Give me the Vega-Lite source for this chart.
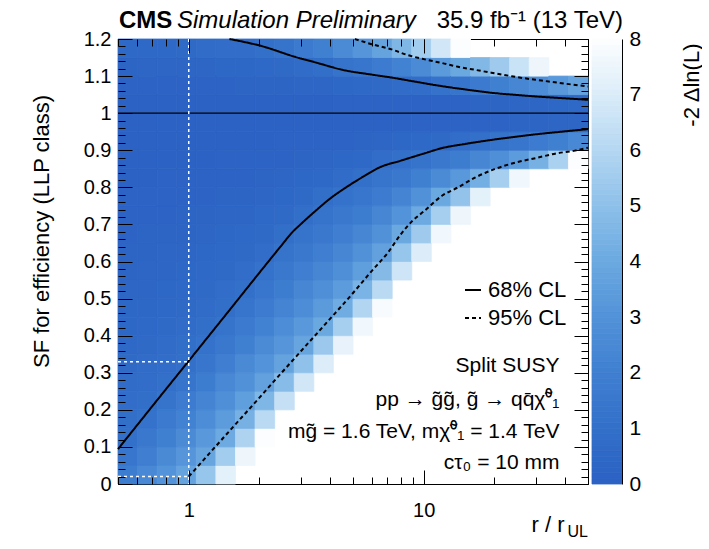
{
"$schema": "https://vega.github.io/schema/vega-lite/v6.json",
"padding": {"left": 29, "top": 8, "right": 0, "bottom": 0},
"background": "white",
"bounds": "flush",
"spacing": 4,
"config": {
  "font": "Liberation Sans",
  "view": {"stroke": "black", "strokeWidth": 1},
  "axis": {"labelFont": "Liberation Sans", "titleFont": "Liberation Sans", "labelColor": "black", "titleColor": "black", "tickColor": "black", "domainColor": "black", "titleFontWeight": "normal", "grid": false, "tickWidth": 1, "labelFontSize": 20, "titleFontSize": 22},
  "legend": {"labelFont": "Liberation Sans"},
  "text": {"font": "Liberation Sans"}
},
"hconcat": [
{
  "width": 470, "height": 445,
  "layer": [
    {
      "data": {"values": [
{"r":0.55,"s":0.025,"v":1.8},{"r":0.55,"s":0.075,"v":1.4},{"r":0.55,"s":0.125,"v":1},{"r":0.55,"s":0.175,"v":0.9},{"r":0.55,"s":0.225,"v":0.8},{"r":0.55,"s":0.275,"v":0.7},{"r":0.55,"s":0.325,"v":0.6},{"r":0.55,"s":0.375,"v":0.5},{"r":0.55,"s":0.425,"v":0.4},{"r":0.55,"s":0.475,"v":0.4},{"r":0.55,"s":0.525,"v":0.3},{"r":0.55,"s":0.575,"v":0.2},{"r":0.55,"s":0.625,"v":0.2},{"r":0.55,"s":0.675,"v":0.1},{"r":0.55,"s":0.725,"v":0.1},{"r":0.55,"s":0.775,"v":0.1},{"r":0.55,"s":0.825,"v":0},{"r":0.55,"s":0.875,"v":0},{"r":0.55,"s":0.925,"v":0},{"r":0.55,"s":0.975,"v":0},{"r":0.55,"s":1.025,"v":0},{"r":0.55,"s":1.075,"v":0.1},{"r":0.55,"s":1.125,"v":0.2},{"r":0.55,"s":1.175,"v":0.5},
{"r":0.667,"s":0.025,"v":2.4},{"r":0.667,"s":0.075,"v":1.9},{"r":0.667,"s":0.125,"v":1.5},{"r":0.667,"s":0.175,"v":1.1},{"r":0.667,"s":0.225,"v":0.9},{"r":0.667,"s":0.275,"v":0.8},{"r":0.667,"s":0.325,"v":0.7},{"r":0.667,"s":0.375,"v":0.6},{"r":0.667,"s":0.425,"v":0.5},{"r":0.667,"s":0.475,"v":0.4},{"r":0.667,"s":0.525,"v":0.3},{"r":0.667,"s":0.575,"v":0.3},{"r":0.667,"s":0.625,"v":0.2},{"r":0.667,"s":0.675,"v":0.2},{"r":0.667,"s":0.725,"v":0.1},{"r":0.667,"s":0.775,"v":0.1},{"r":0.667,"s":0.825,"v":0},{"r":0.667,"s":0.875,"v":0},{"r":0.667,"s":0.925,"v":0},{"r":0.667,"s":0.975,"v":0},{"r":0.667,"s":1.025,"v":0},{"r":0.667,"s":1.075,"v":0.1},{"r":0.667,"s":1.125,"v":0.3},{"r":0.667,"s":1.175,"v":0.5},
{"r":0.808,"s":0.025,"v":3},{"r":0.808,"s":0.075,"v":2.5},{"r":0.808,"s":0.125,"v":2},{"r":0.808,"s":0.175,"v":1.6},{"r":0.808,"s":0.225,"v":1.2},{"r":0.808,"s":0.275,"v":1},{"r":0.808,"s":0.325,"v":0.8},{"r":0.808,"s":0.375,"v":0.7},{"r":0.808,"s":0.425,"v":0.6},{"r":0.808,"s":0.475,"v":0.5},{"r":0.808,"s":0.525,"v":0.4},{"r":0.808,"s":0.575,"v":0.3},{"r":0.808,"s":0.625,"v":0.3},{"r":0.808,"s":0.675,"v":0.2},{"r":0.808,"s":0.725,"v":0.1},{"r":0.808,"s":0.775,"v":0.1},{"r":0.808,"s":0.825,"v":0.1},{"r":0.808,"s":0.875,"v":0},{"r":0.808,"s":0.925,"v":0},{"r":0.808,"s":0.975,"v":0},{"r":0.808,"s":1.025,"v":0},{"r":0.808,"s":1.075,"v":0.1},{"r":0.808,"s":1.125,"v":0.3},{"r":0.808,"s":1.175,"v":0.5},
{"r":0.979,"s":0.025,"v":3.7},{"r":0.979,"s":0.075,"v":3.1},{"r":0.979,"s":0.125,"v":2.6},{"r":0.979,"s":0.175,"v":2.1},{"r":0.979,"s":0.225,"v":1.7},{"r":0.979,"s":0.275,"v":1.3},{"r":0.979,"s":0.325,"v":1},{"r":0.979,"s":0.375,"v":0.9},{"r":0.979,"s":0.425,"v":0.7},{"r":0.979,"s":0.475,"v":0.6},{"r":0.979,"s":0.525,"v":0.5},{"r":0.979,"s":0.575,"v":0.4},{"r":0.979,"s":0.625,"v":0.3},{"r":0.979,"s":0.675,"v":0.2},{"r":0.979,"s":0.725,"v":0.2},{"r":0.979,"s":0.775,"v":0.1},{"r":0.979,"s":0.825,"v":0.1},{"r":0.979,"s":0.875,"v":0},{"r":0.979,"s":0.925,"v":0},{"r":0.979,"s":0.975,"v":0},{"r":0.979,"s":1.025,"v":0},{"r":0.979,"s":1.075,"v":0.1},{"r":0.979,"s":1.125,"v":0.3},{"r":0.979,"s":1.175,"v":0.6},
{"r":1.186,"s":0.025,"v":5.2},{"r":1.186,"s":0.075,"v":3.8},{"r":1.186,"s":0.125,"v":3.2},{"r":1.186,"s":0.175,"v":2.7},{"r":1.186,"s":0.225,"v":2.2},{"r":1.186,"s":0.275,"v":1.8},{"r":1.186,"s":0.325,"v":1.4},{"r":1.186,"s":0.375,"v":1.1},{"r":1.186,"s":0.425,"v":0.9},{"r":1.186,"s":0.475,"v":0.7},{"r":1.186,"s":0.525,"v":0.6},{"r":1.186,"s":0.575,"v":0.5},{"r":1.186,"s":0.625,"v":0.4},{"r":1.186,"s":0.675,"v":0.3},{"r":1.186,"s":0.725,"v":0.2},{"r":1.186,"s":0.775,"v":0.1},{"r":1.186,"s":0.825,"v":0.1},{"r":1.186,"s":0.875,"v":0},{"r":1.186,"s":0.925,"v":0},{"r":1.186,"s":0.975,"v":0},{"r":1.186,"s":1.025,"v":0},{"r":1.186,"s":1.075,"v":0.1},{"r":1.186,"s":1.125,"v":0.3},{"r":1.186,"s":1.175,"v":0.7},
{"r":1.437,"s":0.025,"v":7.2},{"r":1.437,"s":0.075,"v":5.5},{"r":1.437,"s":0.125,"v":4},{"r":1.437,"s":0.175,"v":3.4},{"r":1.437,"s":0.225,"v":2.8},{"r":1.437,"s":0.275,"v":2.4},{"r":1.437,"s":0.325,"v":1.9},{"r":1.437,"s":0.375,"v":1.5},{"r":1.437,"s":0.425,"v":1.2},{"r":1.437,"s":0.475,"v":0.9},{"r":1.437,"s":0.525,"v":0.8},{"r":1.437,"s":0.575,"v":0.6},{"r":1.437,"s":0.625,"v":0.5},{"r":1.437,"s":0.675,"v":0.4},{"r":1.437,"s":0.725,"v":0.3},{"r":1.437,"s":0.775,"v":0.2},{"r":1.437,"s":0.825,"v":0.1},{"r":1.437,"s":0.875,"v":0.1},{"r":1.437,"s":0.925,"v":0},{"r":1.437,"s":0.975,"v":0},{"r":1.437,"s":1.025,"v":0},{"r":1.437,"s":1.075,"v":0.1},{"r":1.437,"s":1.125,"v":0.4},{"r":1.437,"s":1.175,"v":0.8},
{"r":1.741,"s":0.075,"v":7.5},{"r":1.741,"s":0.125,"v":5.8},{"r":1.741,"s":0.175,"v":4.3},{"r":1.741,"s":0.225,"v":3.5},{"r":1.741,"s":0.275,"v":2.9},{"r":1.741,"s":0.325,"v":2.5},{"r":1.741,"s":0.375,"v":2},{"r":1.741,"s":0.425,"v":1.6},{"r":1.741,"s":0.475,"v":1.3},{"r":1.741,"s":0.525,"v":1},{"r":1.741,"s":0.575,"v":0.8},{"r":1.741,"s":0.625,"v":0.6},{"r":1.741,"s":0.675,"v":0.5},{"r":1.741,"s":0.725,"v":0.3},{"r":1.741,"s":0.775,"v":0.2},{"r":1.741,"s":0.825,"v":0.1},{"r":1.741,"s":0.875,"v":0.1},{"r":1.741,"s":0.925,"v":0},{"r":1.741,"s":0.975,"v":0},{"r":1.741,"s":1.025,"v":0},{"r":1.741,"s":1.075,"v":0.2},{"r":1.741,"s":1.125,"v":0.4},{"r":1.741,"s":1.175,"v":0.8},
{"r":2.109,"s":0.125,"v":7.9},{"r":2.109,"s":0.175,"v":6.1},{"r":2.109,"s":0.225,"v":4.5},{"r":2.109,"s":0.275,"v":3.6},{"r":2.109,"s":0.325,"v":3},{"r":2.109,"s":0.375,"v":2.6},{"r":2.109,"s":0.425,"v":2.1},{"r":2.109,"s":0.475,"v":1.7},{"r":2.109,"s":0.525,"v":1.4},{"r":2.109,"s":0.575,"v":1.1},{"r":2.109,"s":0.625,"v":0.8},{"r":2.109,"s":0.675,"v":0.6},{"r":2.109,"s":0.725,"v":0.5},{"r":2.109,"s":0.775,"v":0.3},{"r":2.109,"s":0.825,"v":0.2},{"r":2.109,"s":0.875,"v":0.1},{"r":2.109,"s":0.925,"v":0},{"r":2.109,"s":0.975,"v":0},{"r":2.109,"s":1.025,"v":0},{"r":2.109,"s":1.075,"v":0.2},{"r":2.109,"s":1.125,"v":0.5},{"r":2.109,"s":1.175,"v":1},
{"r":2.555,"s":0.225,"v":6.4},{"r":2.555,"s":0.275,"v":4.8},{"r":2.555,"s":0.325,"v":3.7},{"r":2.555,"s":0.375,"v":3.1},{"r":2.555,"s":0.425,"v":2.7},{"r":2.555,"s":0.475,"v":2.2},{"r":2.555,"s":0.525,"v":1.8},{"r":2.555,"s":0.575,"v":1.5},{"r":2.555,"s":0.625,"v":1.2},{"r":2.555,"s":0.675,"v":0.9},{"r":2.555,"s":0.725,"v":0.6},{"r":2.555,"s":0.775,"v":0.4},{"r":2.555,"s":0.825,"v":0.3},{"r":2.555,"s":0.875,"v":0.1},{"r":2.555,"s":0.925,"v":0.1},{"r":2.555,"s":0.975,"v":0},{"r":2.555,"s":1.025,"v":0},{"r":2.555,"s":1.075,"v":0.2},{"r":2.555,"s":1.125,"v":0.6},{"r":2.555,"s":1.175,"v":1.2},
{"r":3.095,"s":0.275,"v":6.7},{"r":3.095,"s":0.325,"v":5},{"r":3.095,"s":0.375,"v":3.8},{"r":3.095,"s":0.425,"v":3.2},{"r":3.095,"s":0.475,"v":2.7},{"r":3.095,"s":0.525,"v":2.3},{"r":3.095,"s":0.575,"v":1.9},{"r":3.095,"s":0.625,"v":1.5},{"r":3.095,"s":0.675,"v":1.2},{"r":3.095,"s":0.725,"v":0.9},{"r":3.095,"s":0.775,"v":0.6},{"r":3.095,"s":0.825,"v":0.4},{"r":3.095,"s":0.875,"v":0.2},{"r":3.095,"s":0.925,"v":0.1},{"r":3.095,"s":0.975,"v":0},{"r":3.095,"s":1.025,"v":0},{"r":3.095,"s":1.075,"v":0.3},{"r":3.095,"s":1.125,"v":0.7},{"r":3.095,"s":1.175,"v":1.6},
{"r":3.75,"s":0.325,"v":7},{"r":3.75,"s":0.375,"v":5.3},{"r":3.75,"s":0.425,"v":3.9},{"r":3.75,"s":0.475,"v":3.3},{"r":3.75,"s":0.525,"v":2.8},{"r":3.75,"s":0.575,"v":2.3},{"r":3.75,"s":0.625,"v":1.9},{"r":3.75,"s":0.675,"v":1.5},{"r":3.75,"s":0.725,"v":1.2},{"r":3.75,"s":0.775,"v":0.9},{"r":3.75,"s":0.825,"v":0.5},{"r":3.75,"s":0.875,"v":0.3},{"r":3.75,"s":0.925,"v":0.1},{"r":3.75,"s":0.975,"v":0},{"r":3.75,"s":1.025,"v":0},{"r":3.75,"s":1.075,"v":0.3},{"r":3.75,"s":1.125,"v":0.9},{"r":3.75,"s":1.175,"v":2},
{"r":4.543,"s":0.375,"v":7.3},{"r":4.543,"s":0.425,"v":5.6},{"r":4.543,"s":0.475,"v":4.1},{"r":4.543,"s":0.525,"v":3.4},{"r":4.543,"s":0.575,"v":2.8},{"r":4.543,"s":0.625,"v":2.3},{"r":4.543,"s":0.675,"v":1.9},{"r":4.543,"s":0.725,"v":1.5},{"r":4.543,"s":0.775,"v":1.1},{"r":4.543,"s":0.825,"v":0.7},{"r":4.543,"s":0.875,"v":0.4},{"r":4.543,"s":0.925,"v":0.1},{"r":4.543,"s":0.975,"v":0},{"r":4.543,"s":1.025,"v":0.1},{"r":4.543,"s":1.075,"v":0.4},{"r":4.543,"s":1.125,"v":1.2},{"r":4.543,"s":1.175,"v":2.6},
{"r":5.504,"s":0.425,"v":7.6},{"r":5.504,"s":0.475,"v":5.9},{"r":5.504,"s":0.525,"v":4.4},{"r":5.504,"s":0.575,"v":3.5},{"r":5.504,"s":0.625,"v":2.9},{"r":5.504,"s":0.675,"v":2.3},{"r":5.504,"s":0.725,"v":1.8},{"r":5.504,"s":0.775,"v":1.4},{"r":5.504,"s":0.825,"v":1},{"r":5.504,"s":0.875,"v":0.5},{"r":5.504,"s":0.925,"v":0.2},{"r":5.504,"s":0.975,"v":0},{"r":5.504,"s":1.025,"v":0.1},{"r":5.504,"s":1.075,"v":0.5},{"r":5.504,"s":1.125,"v":1.4},{"r":5.504,"s":1.175,"v":3.1},
{"r":6.668,"s":0.475,"v":7.8},{"r":6.668,"s":0.525,"v":6.1},{"r":6.668,"s":0.575,"v":4.7},{"r":6.668,"s":0.625,"v":3.6},{"r":6.668,"s":0.675,"v":2.9},{"r":6.668,"s":0.725,"v":2.3},{"r":6.668,"s":0.775,"v":1.7},{"r":6.668,"s":0.825,"v":1.3},{"r":6.668,"s":0.875,"v":0.8},{"r":6.668,"s":0.925,"v":0.3},{"r":6.668,"s":0.975,"v":0},{"r":6.668,"s":1.025,"v":0.1},{"r":6.668,"s":1.075,"v":0.6},{"r":6.668,"s":1.125,"v":1.7},{"r":6.668,"s":1.175,"v":3.7},
{"r":8.078,"s":0.575,"v":6.6},{"r":8.078,"s":0.625,"v":5.2},{"r":8.078,"s":0.675,"v":3.9},{"r":8.078,"s":0.725,"v":3},{"r":8.078,"s":0.775,"v":2.2},{"r":8.078,"s":0.825,"v":1.5},{"r":8.078,"s":0.875,"v":1},{"r":8.078,"s":0.925,"v":0.4},{"r":8.078,"s":0.975,"v":0},{"r":8.078,"s":1.025,"v":0.1},{"r":8.078,"s":1.075,"v":0.7},{"r":8.078,"s":1.125,"v":2.1},{"r":8.078,"s":1.175,"v":4.5},
{"r":9.786,"s":0.625,"v":7},{"r":9.786,"s":0.675,"v":5.4},{"r":9.786,"s":0.725,"v":4},{"r":9.786,"s":0.775,"v":2.9},{"r":9.786,"s":0.825,"v":2},{"r":9.786,"s":0.875,"v":1.2},{"r":9.786,"s":0.925,"v":0.5},{"r":9.786,"s":0.975,"v":0.1},{"r":9.786,"s":1.025,"v":0.1},{"r":9.786,"s":1.075,"v":0.8},{"r":9.786,"s":1.125,"v":2.6},{"r":9.786,"s":1.175,"v":5.5},
{"r":11.86,"s":0.675,"v":7.6},{"r":11.86,"s":0.725,"v":5.6},{"r":11.86,"s":0.775,"v":3.9},{"r":11.86,"s":0.825,"v":2.6},{"r":11.86,"s":0.875,"v":1.5},{"r":11.86,"s":0.925,"v":0.6},{"r":11.86,"s":0.975,"v":0.1},{"r":11.86,"s":1.025,"v":0.1},{"r":11.86,"s":1.075,"v":1.1},{"r":11.86,"s":1.125,"v":3.3},{"r":11.86,"s":1.175,"v":6.7},
{"r":14.37,"s":0.725,"v":7.5},{"r":14.37,"s":0.775,"v":5.1},{"r":14.37,"s":0.825,"v":3.2},{"r":14.37,"s":0.875,"v":1.8},{"r":14.37,"s":0.925,"v":0.8},{"r":14.37,"s":0.975,"v":0.1},{"r":14.37,"s":1.025,"v":0.1},{"r":14.37,"s":1.075,"v":1.3},{"r":14.37,"s":1.125,"v":3.9},{"r":14.37,"s":1.175,"v":7.9},
{"r":17.41,"s":0.775,"v":7.2},{"r":17.41,"s":0.825,"v":4.2},{"r":17.41,"s":0.875,"v":2.3},{"r":17.41,"s":0.925,"v":1},{"r":17.41,"s":0.975,"v":0.1},{"r":17.41,"s":1.025,"v":0.2},{"r":17.41,"s":1.075,"v":1.6},{"r":17.41,"s":1.125,"v":4.6},
{"r":21.09,"s":0.825,"v":5.6},{"r":21.09,"s":0.875,"v":2.8},{"r":21.09,"s":0.925,"v":1.2},{"r":21.09,"s":0.975,"v":0.1},{"r":21.09,"s":1.025,"v":0.2},{"r":21.09,"s":1.075,"v":2},{"r":21.09,"s":1.125,"v":5.4},
{"r":25.55,"s":0.825,"v":7.6},{"r":25.55,"s":0.875,"v":3.4},{"r":25.55,"s":0.925,"v":1.4},{"r":25.55,"s":0.975,"v":0.2},{"r":25.55,"s":1.025,"v":0.3},{"r":25.55,"s":1.075,"v":2.3},{"r":25.55,"s":1.125,"v":6.5},
{"r":30.95,"s":0.875,"v":4.3},{"r":30.95,"s":0.925,"v":1.7},{"r":30.95,"s":0.975,"v":0.2},{"r":30.95,"s":1.025,"v":0.3},{"r":30.95,"s":1.075,"v":2.7},{"r":30.95,"s":1.125,"v":7.5},
{"r":37.5,"s":0.875,"v":5.7},{"r":37.5,"s":0.925,"v":2},{"r":37.5,"s":0.975,"v":0.3},{"r":37.5,"s":1.025,"v":0.4},{"r":37.5,"s":1.075,"v":3.2},
{"r":45.43,"s":0.875,"v":7.9},{"r":45.43,"s":0.925,"v":2.4},{"r":45.43,"s":0.975,"v":0.3},{"r":45.43,"s":1.025,"v":0.5},{"r":45.43,"s":1.075,"v":3.7}
      ]},
      "mark": {"type": "rect", "strokeWidth": 0.8},
      "encoding": {
        "x": {"field": "r", "type": "ordinal", "scale": {"type": "band", "domain": [0.55,0.667,0.808,0.979,1.186,1.437,1.741,2.109,2.555,3.095,3.75,4.543,5.504,6.668,8.078,9.786,11.86,14.37,17.41,21.09,25.55,30.95,37.5,45.43], "paddingInner": 0, "paddingOuter": 0}, "axis": null},
        "y": {"field": "s", "type": "ordinal", "scale": {"type": "band", "domain": [1.175,1.125,1.075,1.025,0.975,0.925,0.875,0.825,0.775,0.725,0.675,0.625,0.575,0.525,0.475,0.425,0.375,0.325,0.275,0.225,0.175,0.125,0.075,0.025], "paddingInner": 0, "paddingOuter": 0}, "axis": null},
        "fill": {"field": "v", "type": "quantitative", "scale": {"domain": [0,1,2,3,4,5,6,7,8], "range": ["#2b62c3","#3370ca","#4080d1","#5393d9","#6caae1","#8fc1ea","#b6d8f2","#dcedf9","#ffffff"], "interpolate": "rgb", "clamp": true}, "legend": null},
        "stroke": {"field": "v", "type": "quantitative", "scale": {"domain": [0,1,2,3,4,5,6,7,8], "range": ["#2b62c3","#3370ca","#4080d1","#5393d9","#6caae1","#8fc1ea","#b6d8f2","#dcedf9","#ffffff"], "interpolate": "rgb", "clamp": true}, "legend": null}
      }
    },
    {
      "data": {"values": [
{"r":0.5,"s":0.094,"c":"68% CL","g":"l1"},{"r":0.7,"s":0.21,"c":"68% CL","g":"l1"},{"r":1,"s":0.332,"c":"68% CL","g":"l1"},{"r":1.5,"s":0.471,"c":"68% CL","g":"l1"},{"r":2,"s":0.57,"c":"68% CL","g":"l1"},{"r":2.5,"s":0.646,"c":"68% CL","g":"l1"},{"r":2.75,"s":0.678,"c":"68% CL","g":"l1"},{"r":3,"s":0.701,"c":"68% CL","g":"l1"},{"r":3.5,"s":0.739,"c":"68% CL","g":"l1"},{"r":4,"s":0.77,"c":"68% CL","g":"l1"},{"r":4.5,"s":0.793,"c":"68% CL","g":"l1"},{"r":5.5,"s":0.828,"c":"68% CL","g":"l1"},{"r":6.5,"s":0.854,"c":"68% CL","g":"l1"},{"r":8,"s":0.872,"c":"68% CL","g":"l1"},{"r":10,"s":0.891,"c":"68% CL","g":"l1"},{"r":12,"s":0.906,"c":"68% CL","g":"l1"},{"r":15,"s":0.917,"c":"68% CL","g":"l1"},{"r":20,"s":0.929,"c":"68% CL","g":"l1"},{"r":25,"s":0.937,"c":"68% CL","g":"l1"},{"r":30,"s":0.943,"c":"68% CL","g":"l1"},{"r":40,"s":0.951,"c":"68% CL","g":"l1"},{"r":50,"s":0.957,"c":"68% CL","g":"l1"},
{"r":1.49,"s":1.2,"c":"68% CL","g":"u1"},{"r":2.04,"s":1.181,"c":"68% CL","g":"u1"},{"r":2.83,"s":1.152,"c":"68% CL","g":"u1"},{"r":3.5,"s":1.136,"c":"68% CL","g":"u1"},{"r":4.5,"s":1.117,"c":"68% CL","g":"u1"},{"r":6,"s":1.104,"c":"68% CL","g":"u1"},{"r":7.3,"s":1.096,"c":"68% CL","g":"u1"},{"r":9,"s":1.086,"c":"68% CL","g":"u1"},{"r":11.9,"s":1.073,"c":"68% CL","g":"u1"},{"r":15,"s":1.064,"c":"68% CL","g":"u1"},{"r":19.4,"s":1.055,"c":"68% CL","g":"u1"},{"r":25,"s":1.049,"c":"68% CL","g":"u1"},{"r":31.7,"s":1.044,"c":"68% CL","g":"u1"},{"r":40,"s":1.04,"c":"68% CL","g":"u1"},{"r":50,"s":1.036,"c":"68% CL","g":"u1"},
{"r":1,"s":0.02,"c":"95% CL","g":"l2"},{"r":1.5,"s":0.145,"c":"95% CL","g":"l2"},{"r":2,"s":0.233,"c":"95% CL","g":"l2"},{"r":2.5,"s":0.302,"c":"95% CL","g":"l2"},{"r":3,"s":0.358,"c":"95% CL","g":"l2"},{"r":3.5,"s":0.405,"c":"95% CL","g":"l2"},{"r":4,"s":0.446,"c":"95% CL","g":"l2"},{"r":4.5,"s":0.482,"c":"95% CL","g":"l2"},{"r":5,"s":0.515,"c":"95% CL","g":"l2"},{"r":6,"s":0.574,"c":"95% CL","g":"l2"},{"r":7,"s":0.622,"c":"95% CL","g":"l2"},{"r":8,"s":0.674,"c":"95% CL","g":"l2"},{"r":9,"s":0.711,"c":"95% CL","g":"l2"},{"r":10,"s":0.735,"c":"95% CL","g":"l2"},{"r":12,"s":0.778,"c":"95% CL","g":"l2"},{"r":14,"s":0.8,"c":"95% CL","g":"l2"},{"r":16.5,"s":0.826,"c":"95% CL","g":"l2"},{"r":20,"s":0.849,"c":"95% CL","g":"l2"},{"r":25,"s":0.868,"c":"95% CL","g":"l2"},{"r":30,"s":0.879,"c":"95% CL","g":"l2"},{"r":37,"s":0.892,"c":"95% CL","g":"l2"},{"r":44,"s":0.899,"c":"95% CL","g":"l2"},{"r":50,"s":0.907,"c":"95% CL","g":"l2"},
{"r":5.09,"s":1.2,"c":"95% CL","g":"u2"},{"r":6,"s":1.186,"c":"95% CL","g":"u2"},{"r":7.3,"s":1.172,"c":"95% CL","g":"u2"},{"r":8.5,"s":1.157,"c":"95% CL","g":"u2"},{"r":10.1,"s":1.145,"c":"95% CL","g":"u2"},{"r":12,"s":1.135,"c":"95% CL","g":"u2"},{"r":14,"s":1.125,"c":"95% CL","g":"u2"},{"r":16.5,"s":1.117,"c":"95% CL","g":"u2"},{"r":19.4,"s":1.109,"c":"95% CL","g":"u2"},{"r":23,"s":1.101,"c":"95% CL","g":"u2"},{"r":26.9,"s":1.094,"c":"95% CL","g":"u2"},{"r":31.7,"s":1.088,"c":"95% CL","g":"u2"},{"r":37.3,"s":1.082,"c":"95% CL","g":"u2"},{"r":43,"s":1.077,"c":"95% CL","g":"u2"},{"r":50,"s":1.072,"c":"95% CL","g":"u2"}
      ]},
      "layer": [
        {
          "transform": [{"filter": "datum.g == 'l1'"}],
          "mark": {"type": "line", "color": "black", "strokeWidth": 2, "interpolate": "monotone"},
          "encoding": {
            "x": {"field": "r", "type": "quantitative", "scale": {"type": "log", "domain": [0.5, 50], "nice": false},
              "axis": {"orient": "bottom", "values": [1, 10], "labelExpr": "datum.value == 1 ? '1' : '10'", "ticks": false, "tickSize": 0, "domain": false, "zindex": 1,
                "labelPadding": 16, "labelOverlap": false, "labelFlush": false,
                "title": "r / r", "titleX": 446, "titleY": 47, "titleAlign": "right", "titleBaseline": "alphabetic", "titleFontSize": 22}},
            "y": {"field": "s", "type": "quantitative", "scale": {"domain": [0, 1.2], "nice": false, "zero": false},
              "axis": {"orient": "left", "values": [0,0.1,0.2,0.3,0.4,0.5,0.6,0.7,0.8,0.9,1,1.1,1.2], "labelExpr": "format(datum.value, '.1~f')", "ticks": false, "tickSize": 0, "domain": false, "zindex": 1,
                "labelPadding": 7, "labelOverlap": false,
                "title": "SF for efficiency (LLP class)", "titleAngle": 270, "titleX": -77, "titleY": 192, "titleAlign": "center", "titleBaseline": "middle", "titleFontSize": 22}},
            "strokeDash": {"field": "c", "type": "nominal", "scale": {"domain": ["68% CL", "95% CL"], "range": [[1, 0], [4, 3]]},
              "legend": {"orient": "none", "legendX": 344, "legendY": 240, "title": null, "symbolType": "stroke", "symbolSize": 256, "symbolStrokeWidth": 2, "symbolStrokeColor": "black", "labelFontSize": 22, "labelColor": "black", "labelOffset": 4, "rowPadding": 6, "padding": 0}}
          }
        },
        {
          "transform": [{"filter": "datum.g == 'u1'"}],
          "mark": {"type": "line", "color": "black", "strokeWidth": 2, "interpolate": "monotone"},
          "encoding": {
            "x": {"field": "r", "type": "quantitative",
              "axis": {"orient": "top", "offset": -445, "values": [0.5,0.6,0.7,0.8,0.9,1,2,3,4,5,6,7,8,9,10,20,30,40,50], "labels": false, "domain": false, "title": null, "zindex": 1, "ticks": true, "tickSize": 7}},
            "y": {"field": "s", "type": "quantitative",
              "axis": {"orient": "right", "offset": -470, "values": [0,0.02,0.04,0.06,0.08,0.1,0.12,0.14,0.16,0.18,0.2,0.22,0.24,0.26,0.28,0.3,0.32,0.34,0.36,0.38,0.4,0.42,0.44,0.46,0.48,0.5,0.52,0.54,0.56,0.58,0.6,0.62,0.64,0.66,0.68,0.7,0.72,0.74,0.76,0.78,0.8,0.82,0.84,0.86,0.88,0.9,0.92,0.94,0.96,0.98,1,1.02,1.04,1.06,1.08,1.1,1.12,1.14,1.16,1.18,1.2], "labels": false, "domain": false, "title": null, "zindex": 1, "ticks": true, "tickSize": 7}},
            "strokeDash": {"field": "c", "type": "nominal"}
          }
        },
        {
          "transform": [{"filter": "datum.g == 'l2'"}],
          "mark": {"type": "line", "color": "black", "strokeWidth": 2, "interpolate": "monotone"},
          "encoding": {
            "x": {"field": "r", "type": "quantitative",
              "axis": {"orient": "bottom", "offset": -445, "values": [0.5,0.6,0.7,0.8,0.9,1,2,3,4,5,6,7,8,9,10,20,30,40,50], "labels": false, "domain": false, "title": null, "zindex": 1, "ticks": true, "tickSize": 7}},
            "y": {"field": "s", "type": "quantitative",
              "axis": {"orient": "left", "offset": -470, "values": [0,0.02,0.04,0.06,0.08,0.1,0.12,0.14,0.16,0.18,0.2,0.22,0.24,0.26,0.28,0.3,0.32,0.34,0.36,0.38,0.4,0.42,0.44,0.46,0.48,0.5,0.52,0.54,0.56,0.58,0.6,0.62,0.64,0.66,0.68,0.7,0.72,0.74,0.76,0.78,0.8,0.82,0.84,0.86,0.88,0.9,0.92,0.94,0.96,0.98,1,1.02,1.04,1.06,1.08,1.1,1.12,1.14,1.16,1.18,1.2], "labels": false, "domain": false, "title": null, "zindex": 1, "ticks": true, "tickSize": 7}},
            "strokeDash": {"field": "c", "type": "nominal"}
          }
        },
        {
          "transform": [{"filter": "datum.g == 'u2'"}],
          "mark": {"type": "line", "color": "black", "strokeWidth": 2, "interpolate": "monotone"},
          "encoding": {
            "x": {"field": "r", "type": "quantitative",
              "axis": {"orient": "top", "offset": -445, "values": [1, 10], "labels": false, "domain": false, "title": null, "zindex": 1, "ticks": true, "tickSize": 14}},
            "y": {"field": "s", "type": "quantitative",
              "axis": {"orient": "right", "offset": -470, "values": [0,0.1,0.2,0.3,0.4,0.5,0.6,0.7,0.8,0.9,1,1.1,1.2], "labels": false, "domain": false, "title": null, "zindex": 1, "ticks": true, "tickSize": 14}},
            "strokeDash": {"field": "c", "type": "nominal"}
          }
        },
        {
          "data": {"values": [{"s": 1}]},
          "mark": {"type": "rule", "color": "black", "strokeWidth": 1.2},
          "encoding": {
            "y": {"field": "s", "type": "quantitative",
              "axis": {"orient": "left", "offset": -470, "values": [0,0.1,0.2,0.3,0.4,0.5,0.6,0.7,0.8,0.9,1,1.1,1.2], "labels": false, "domain": false, "title": null, "zindex": 1, "ticks": true, "tickSize": 14}}
          }
        },
        {
          "data": {"values": [{"r": 1}]},
          "mark": {"type": "rule", "color": "white", "strokeWidth": 1.5, "strokeDash": [3, 3]},
          "encoding": {
            "x": {"field": "r", "type": "quantitative",
              "axis": {"orient": "bottom", "offset": -445, "values": [1, 10], "labels": false, "domain": false, "title": null, "zindex": 1, "ticks": true, "tickSize": 14}}
          }
        },
        {
          "data": {"values": [{}]},
          "mark": {"type": "rule", "color": "white", "strokeWidth": 1.5, "strokeDash": [3, 3]},
          "encoding": {
            "x": {"datum": 0.5, "type": "quantitative", "axis": null},
            "x2": {"datum": 1},
            "y": {"datum": 0.33, "type": "quantitative", "axis": null}
          }
        },
        {
          "data": {"values": [{}]},
          "mark": {"type": "rule", "color": "white", "strokeWidth": 1.5, "strokeDash": [3, 3]},
          "encoding": {
            "x": {"datum": 0.5, "type": "quantitative", "axis": null},
            "x2": {"datum": 1},
            "y": {"datum": 0.02, "type": "quantitative", "axis": null}
          }
        },
        {
          "data": {"values": [{}]},
          "mark": {"type": "text", "text": "CMS", "align": "left", "baseline": "alphabetic", "dx": 1, "dy": -11, "fontSize": 24, "fontWeight": "bold", "fill": "black"},
          "encoding": {"x": {"datum": 0.5, "type": "quantitative", "axis": null}, "y": {"datum": 1.2, "type": "quantitative", "axis": null}}
        },
        {
          "data": {"values": [{}]},
          "mark": {"type": "text", "text": "Simulation Preliminary", "align": "left", "baseline": "alphabetic", "dx": 59, "dy": -11, "fontSize": 24, "fontStyle": "italic", "fill": "black"},
          "encoding": {"x": {"datum": 0.5, "type": "quantitative", "axis": null}, "y": {"datum": 1.2, "type": "quantitative", "axis": null}}
        },
        {
          "data": {"values": [{}]},
          "mark": {"type": "text", "text": "35.9 fb\u207b\u00b9 (13 TeV)", "align": "right", "baseline": "alphabetic", "dx": 35, "dy": -11, "fontSize": 24, "fill": "black"},
          "encoding": {"x": {"datum": 50, "type": "quantitative", "axis": null}, "y": {"datum": 1.2, "type": "quantitative", "axis": null}}
        },
        {
          "data": {"values": [{}]},
          "mark": {"type": "text", "text": "Split SUSY", "align": "right", "baseline": "alphabetic", "fontSize": 21, "fill": "black"},
          "encoding": {"x": {"datum": 37.8, "type": "quantitative", "axis": null}, "y": {"datum": 0.301, "type": "quantitative", "axis": null}}
        },
        {
          "data": {"values": [{}]},
          "mark": {"type": "text", "text": "pp \u2192 g\u0303g\u0303, g\u0303 \u2192 qq\u0304\u03c7\u0303\u2070\u2081", "align": "right", "baseline": "alphabetic", "fontSize": 21, "fill": "black"},
          "encoding": {"x": {"datum": 37.8, "type": "quantitative", "axis": null}, "y": {"datum": 0.209, "type": "quantitative", "axis": null}}
        },
        {
          "data": {"values": [{}]},
          "mark": {"type": "text", "text": "mg\u0303 = 1.6 TeV, m\u03c7\u0303\u2070\u2081 = 1.4 TeV", "align": "right", "baseline": "alphabetic", "fontSize": 21, "fill": "black"},
          "encoding": {"x": {"datum": 37.8, "type": "quantitative", "axis": null}, "y": {"datum": 0.123, "type": "quantitative", "axis": null}}
        },
        {
          "data": {"values": [{}]},
          "mark": {"type": "text", "text": "c\u03c4\u2080 = 10 mm", "align": "right", "baseline": "alphabetic", "fontSize": 21, "fill": "black"},
          "encoding": {"x": {"datum": 37.8, "type": "quantitative", "axis": null}, "y": {"datum": 0.041, "type": "quantitative", "axis": null}}
        },
        {
          "data": {"values": [{}]},
          "mark": {"type": "text", "text": "UL", "align": "right", "baseline": "alphabetic", "dy": 53, "fontSize": 16, "fill": "black"},
          "encoding": {"x": {"datum": 50, "type": "quantitative", "axis": null}, "y": {"datum": 0, "type": "quantitative", "axis": null}}
        }
      ],
      "resolve": {"axis": {"x": "independent", "y": "independent"}}
    }
  ],
  "resolve": {"scale": {"x": "independent", "y": "independent"}}
},
{
  "width": 30, "height": 445,
  "view": {"stroke": null},
  "data": {"values": [
{"a":0,"b":0.1},{"a":0.1,"b":0.2},{"a":0.2,"b":0.3},{"a":0.3,"b":0.4},{"a":0.4,"b":0.5},{"a":0.5,"b":0.6},{"a":0.6,"b":0.7},{"a":0.7,"b":0.8},{"a":0.8,"b":0.9},{"a":0.9,"b":1},
{"a":1,"b":1.1},{"a":1.1,"b":1.2},{"a":1.2,"b":1.3},{"a":1.3,"b":1.4},{"a":1.4,"b":1.5},{"a":1.5,"b":1.6},{"a":1.6,"b":1.7},{"a":1.7,"b":1.8},{"a":1.8,"b":1.9},{"a":1.9,"b":2},
{"a":2,"b":2.1},{"a":2.1,"b":2.2},{"a":2.2,"b":2.3},{"a":2.3,"b":2.4},{"a":2.4,"b":2.5},{"a":2.5,"b":2.6},{"a":2.6,"b":2.7},{"a":2.7,"b":2.8},{"a":2.8,"b":2.9},{"a":2.9,"b":3},
{"a":3,"b":3.1},{"a":3.1,"b":3.2},{"a":3.2,"b":3.3},{"a":3.3,"b":3.4},{"a":3.4,"b":3.5},{"a":3.5,"b":3.6},{"a":3.6,"b":3.7},{"a":3.7,"b":3.8},{"a":3.8,"b":3.9},{"a":3.9,"b":4},
{"a":4,"b":4.1},{"a":4.1,"b":4.2},{"a":4.2,"b":4.3},{"a":4.3,"b":4.4},{"a":4.4,"b":4.5},{"a":4.5,"b":4.6},{"a":4.6,"b":4.7},{"a":4.7,"b":4.8},{"a":4.8,"b":4.9},{"a":4.9,"b":5},
{"a":5,"b":5.1},{"a":5.1,"b":5.2},{"a":5.2,"b":5.3},{"a":5.3,"b":5.4},{"a":5.4,"b":5.5},{"a":5.5,"b":5.6},{"a":5.6,"b":5.7},{"a":5.7,"b":5.8},{"a":5.8,"b":5.9},{"a":5.9,"b":6},
{"a":6,"b":6.1},{"a":6.1,"b":6.2},{"a":6.2,"b":6.3},{"a":6.3,"b":6.4},{"a":6.4,"b":6.5},{"a":6.5,"b":6.6},{"a":6.6,"b":6.7},{"a":6.7,"b":6.8},{"a":6.8,"b":6.9},{"a":6.9,"b":7},
{"a":7,"b":7.1},{"a":7.1,"b":7.2},{"a":7.2,"b":7.3},{"a":7.3,"b":7.4},{"a":7.4,"b":7.5},{"a":7.5,"b":7.6},{"a":7.6,"b":7.7},{"a":7.7,"b":7.8},{"a":7.8,"b":7.9},{"a":7.9,"b":8}
  ]},
  "mark": {"type": "rect", "strokeWidth": 0.8},
  "encoding": {
    "y": {"field": "a", "type": "quantitative", "scale": {"domain": [0, 8], "nice": false, "zero": false},
      "axis": {"orient": "right", "values": [0,1,2,3,4,5,6,7,8], "format": "d", "ticks": false, "tickSize": 0, "labelPadding": 7, "labelFontSize": 21, "domain": true, "zindex": 1,
        "title": "-2 \u0394ln(L)", "titleAngle": 270, "titleX": 69, "titleY": 4, "titleAlign": "right", "titleBaseline": "middle", "titleFontSize": 22}},
    "y2": {"field": "b"},
    "fill": {"field": "a", "type": "quantitative", "scale": {"domain": [0,1,2,3,4,5,6,7,8], "range": ["#2b62c3","#3370ca","#4080d1","#5393d9","#6caae1","#8fc1ea","#b6d8f2","#dcedf9","#ffffff"], "interpolate": "rgb", "clamp": true}, "legend": null},
    "stroke": {"field": "a", "type": "quantitative", "scale": {"domain": [0,1,2,3,4,5,6,7,8], "range": ["#2b62c3","#3370ca","#4080d1","#5393d9","#6caae1","#8fc1ea","#b6d8f2","#dcedf9","#ffffff"], "interpolate": "rgb", "clamp": true}, "legend": null}
  }
}
]
}
